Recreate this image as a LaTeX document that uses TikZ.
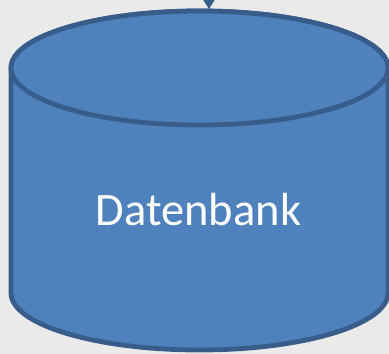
\documentclass[tikz,border=0pt]{standalone}
\usepackage{fontspec}
\setmainfont{Carlito}
\usetikzlibrary{arrows.meta}
\definecolor{bg}{RGB}{234,234,234}
\definecolor{cylfill}{RGB}{79,129,189}
\definecolor{cylline}{RGB}{56,93,138}
\tikzset{
  cylbody/.style={fill=cylfill, draw=cylline, line width=4.8pt, line join=round},
  cyllabel/.style={text=white, font=\fontsize{46.5}{56}\selectfont, inner sep=0pt},
  inflow/.style={draw=cylline, line width=2pt, -{Triangle[width=16pt,length=13pt]}}
}
\begin{document}
\begin{tikzpicture}[x=1pt,y=1pt]
\useasboundingbox (0,0) rectangle (389,-354);
\fill[bg] (0,0) rectangle (389,-354);
\clip (0,0) rectangle (389,-354);
% cylinder body
\path[cylbody] (11,-68) -- (11,-293) arc[start angle=180, end angle=360, x radius=188.5, y radius=57]
  -- (388,-68) arc[start angle=0, end angle=180, x radius=188.5, y radius=57] -- cycle;
% top ellipse
\draw[cylbody] (199.5,-68) ellipse[x radius=188.5, y radius=57];
\node[cyllabel, anchor=base] (db) at (198.5,-225) {Datenbank};
\coordinate (src) at (209,40);
\coordinate (dbtop) at (209,-9);
\draw[inflow] (src) -- (dbtop);
\end{tikzpicture}
\end{document}
